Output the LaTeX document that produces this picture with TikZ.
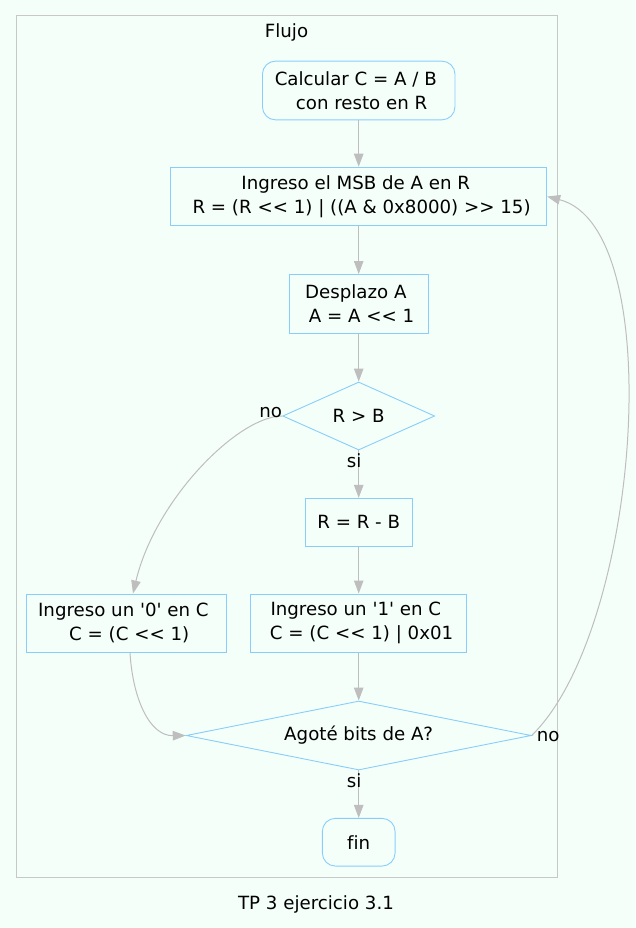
\documentclass[tikz,border=0pt]{standalone}
\usepackage{fontspec}
\newfontfamily\flowfont{DejaVu Sans}[Ligatures=CommonOff]
\usepackage{tikz}
\usetikzlibrary{shapes.geometric,arrows.meta}

\definecolor{mint}{HTML}{F5FFFA}
\definecolor{nodeblue}{HTML}{87CEFA}
\definecolor{edgegray}{HTML}{BEBEBE}
\definecolor{framegray}{HTML}{C8C8C8}

% half-space padding at line ends, as in the source labels
\newcommand{\lsp}{\hspace*{5.8pt}}

\tikzset{
  box/.style={draw=nodeblue, line width=0.9pt, rectangle, inner sep=0pt, align=center, minimum height=58.7pt},
  rbox/.style={box, rounded corners=13pt},
  cond/.style={draw=nodeblue, line width=0.9pt, diamond, inner sep=0pt, align=center},
  flow/.style={draw=edgegray, line width=1pt, -{Triangle[length=13pt,width=9.5pt]}},
  tag/.style={inner sep=0pt}
}

\begin{document}
\begin{tikzpicture}[x=1pt,y=-1pt,
    every node/.style={font=\flowfont\fontsize{18.2}{24}\selectfont}]
		\fill[mint] (0,0) rectangle (635,928);
		\useasboundingbox (0,0) rectangle (635,928);
		% cluster
		\draw[framegray, line width=1pt] (16,16) rectangle (557,877);
		\node[tag, anchor=base] (flujo) at (286.5,37.3) {Flujo};
		\node[tag, anchor=base] (caption) at (316,909) {TP 3 ejercicio 3.1};
		% nodes
		\node[rbox, minimum width=192.5pt] (calc) at (358.7,90.5) {Calcular C = A / B\lsp\\\lsp con resto en R};
		\node[box, minimum width=376pt] (msb) at (358.7,196.5) {Ingreso el MSB de A en R\lsp\\\lsp R = (R << 1) | ((A \& 0x8000) >> 15)};
		\node[box, minimum width=138.7pt] (desp) at (358.7,303.8) {Desplazo A\lsp\\\lsp A = A << 1};
		\node[cond, aspect=2.24, minimum width=152pt, minimum height=68pt] (rb) at (358.7,416) {R > B};
		\node[box, minimum width=107.3pt, minimum height=48pt] (rrb) at (358.7,522.3) {R = R - B};
		\node[box, minimum width=200.7pt] (zero) at (126.3,623.3) {Ingreso un '0' en C\lsp\\\lsp C = (C << 1)};
		\node[box, minimum width=216pt] (one) at (358.7,623.3) {Ingreso un '1' en C\lsp\\\lsp C = (C << 1) | 0x01};
		\node[cond, aspect=5, minimum width=345pt, minimum height=69pt] (agote) at (358.7,735.5) {Agoté bits de A?};
		\node[rbox, minimum width=72.7pt, minimum height=47.7pt] (fin) at (358.7,842.2) {fin};
		% edges
		\draw[flow] (calc) -- (msb);
		\draw[flow] (msb) -- (desp);
		\draw[flow] (desp) -- (rb);
		\draw[flow] (rb) -- (rrb);
		\draw[flow] (rb.west) .. controls (238,416) and (155,500) .. (zero.north -| 133,0);
		\draw[flow] (rrb) -- (one);
		\draw[flow] (one) -- (agote);
		\draw[flow] (zero.south -| 130,0) .. controls (133,700) and (150,736) .. (agote.west);
		\draw[flow] (agote) -- (fin);
		\draw[flow] (agote.east) .. controls (640,630) and (670,228) .. (msb.east);
		% edge labels
		\node[tag, anchor=base east, yshift=-1pt] (no1) at (rb.west) {no};
		\node[tag, anchor=base east, xshift=3pt, yshift=-17pt] (si1) at (rb.south) {si};
		\node[tag, anchor=base east, xshift=3pt, yshift=-17pt] (si2) at (agote.south) {si};
		\node[tag, anchor=base west, xshift=5pt, yshift=-6pt] (no2) at (agote.east) {no};
	\end{tikzpicture}
\end{document}
